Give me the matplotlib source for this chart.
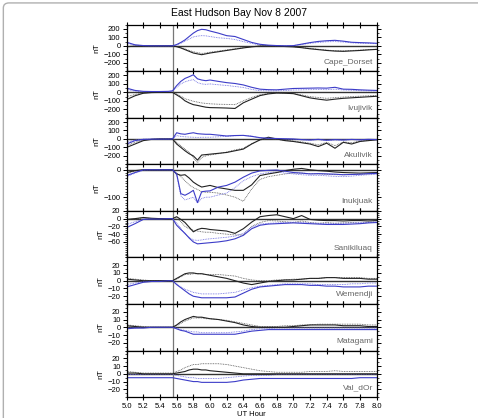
import numpy as np
import matplotlib
matplotlib.use("Agg")
import matplotlib.pyplot as plt
from matplotlib.patches import FancyBboxPatch
from matplotlib.ticker import MultipleLocator, FormatStrFormatter

# UT hour sample times (shared by every trace)
ut = [5.0, 5.1, 5.2, 5.3, 5.4, 5.5, 5.55, 5.6, 5.65, 5.7, 5.75, 5.8, 5.85, 5.9, 5.95,
      6.0, 6.1, 6.2, 6.3, 6.4, 6.5, 6.6, 6.7, 6.8, 6.9, 7.0, 7.1, 7.2, 7.3, 7.4,
      7.5, 7.6, 7.7, 7.8, 7.9, 8.0]

stations = ["Cape_Dorset", "Ivujivik", "Akulivik", "Inukjuak",
            "Sanikiluaq", "Wemendji", "Matagami", "Val_dOr"]

# Cape_Dorset
cd_blue = [42, 12, 3, 0, 0, 0, 0, 15, 40, 70, 110, 150, 180, 195, 190, 175, 150, 120, 110, 75,
           40, 18, 8, 3, 0, 2, 20, 38, 52, 60, 65, 55, 42, 38, 35, 30]
cd_blue_dot = [30, 8, 2, 0, 0, 0, 0, 10, 30, 55, 80, 105, 115, 120, 118, 110, 95, 88, 75, 50,
               28, 10, 4, 0, 0, 3, 15, 30, 40, 48, 50, 45, 35, 30, 28, 25]
cd_black = [-10, -5, 0, 0, 0, 0, 0, -10, -25, -45, -65, -85, -95, -105, -95, -85, -70, -55, -40, -25,
            -12, -3, 0, -3, -8, -12, -22, -35, -45, -55, -62, -65, -60, -55, -48, -42]
cd_black_dot = [-8, -3, 0, 0, 0, 0, 0, -8, -20, -35, -55, -70, -80, -90, -85, -75, -62, -48, -35, -22,
                -10, -2, 0, -2, -6, -10, -20, -30, -40, -50, -58, -60, -55, -50, -45, -40]

# Ivujivik
iv_blue = [50, 23, 12, 10, 10, 12, 18, 80, 130, 165, 185, 208, 160, 146, 138, 146, 130, 115, 105, 88,
           60, 38, 32, 30, 38, 46, 48, 50, 52, 50, 60, 38, 36, 30, 26, 23]
iv_blue_dot = [35, 15, 8, 8, 8, 10, 15, 60, 100, 125, 140, 150, 115, 100, 95, 100, 90, 82, 70, 58,
               35, 20, 18, 18, 22, 28, 30, 32, 34, 32, 38, 28, 25, 20, 18, 16]
iv_black = [-85, -40, -10, -2, 0, 0, 0, -30, -60, -100, -125, -145, -154, -165, -175, -180, -182, -185, -190, -123,
            -80, -38, -18, -8, -10, -15, -40, -65, -80, -92, -80, -70, -64, -58, -52, -46]
iv_black_dot = [-50, -25, -6, 0, 0, 0, 0, -20, -45, -75, -90, -105, -115, -125, -130, -135, -140, -142, -145, -100,
                -60, -28, -12, -5, -8, -12, -30, -50, -60, -70, -62, -55, -50, -45, -40, -35]

# Akulivik
ak_blue = [-60, -20, -5, -3, -2, -2, 0, 73, 60, 55, 65, 73, 62, 58, 55, 55, 45, 35, 40, 42,
           30, 15, 8, 5, 2, 0, -8, -12, -5, -15, -8, -12, -6, -10, -5, -8]
ak_blue_dot = [-40, -12, -3, -2, -2, -2, 0, 40, 30, 25, 22, 20, 18, 20, 20, 20, 25, 30, 38, 40,
               35, 10, 5, 2, 0, -5, -10, -15, -8, -20, -12, -15, -8, -12, -8, -10]
ak_black = [-100, -60, -20, -5, 0, 0, 0, -60, -100, -140, -175, -200, -250, -190, -185, -180, -170, -160, -140, -120,
            -60, -10, 20, 0, -20, -30, -45, -60, -90, -50, -110, -40, -60, -30, -20, -10]
ak_black_dot = [-80, -40, -12, -3, 0, 0, 0, -40, -80, -120, -160, -220, -280, -220, -200, -190, -175, -155, -130, -110,
                -55, -15, 10, -5, -15, -25, -35, -50, -70, -40, -80, -35, -45, -25, -15, -8]

# Inukjuak
in_blue = [-21, -10, 0, 0, 0, 0, 0, -15, -87, -93, -85, -75, -120, -80, -78, -77, -63, -57, -45, -27,
           -12, -4, -2, -1, -5, -10, -12, -15, -14, -15, -16, -18, -17, -16, -14, -13]
in_blue_dot = [-25, -12, -2, 0, 0, 0, 0, -20, -95, -110, -105, -100, -120, -105, -100, -100, -92, -85, -65, -40,
               -25, -15, -10, -8, -12, -15, -18, -20, -20, -22, -24, -25, -23, -20, -18, -17]
in_black = [-10, -3, 0, 0, 0, 0, 0, -15, -20, -18, -30, -45, -55, -63, -60, -57, -65, -70, -75, -75,
            -55, -21, -15, -10, -3, 2, 5, 0, -3, -5, -8, -10, -11, -12, -11, -10]
in_black_dot = [-12, -5, 0, 0, 0, 0, 0, -12, -25, -40, -55, -65, -72, -80, -82, -82, -85, -92, -100, -115,
                -70, -35, -25, -20, -15, -12, -12, -14, -15, -16, -18, -18, -17, -16, -15, -14]

# Sanikiluaq
sa_blue = [-23, -13, -2, -1, -1, 0, 0, -17, -28, -38, -50, -60, -65, -64, -63, -62, -60, -57, -52, -43,
           -26, -17, -14, -13, -12, -11, -12, -13, -14, -15, -15, -15, -14, -13, -11, -10]
sa_blue_dot = [-15, -8, -1, 0, 0, 0, 0, -12, -25, -40, -48, -55, -56, -55, -53, -52, -50, -48, -45, -38,
               -22, -14, -12, -11, -10, -9, -10, -11, -12, -13, -12, -12, -11, -10, -9, -8]
sa_black = [-2, 0, 3, 1, 0, 0, 0, 5, -2, -10, -22, -34, -28, -25, -26, -28, -30, -32, -38, -26,
            -9, 5, 8, 10, 5, 0, 8, -2, -4, -5, -5, -6, -5, -5, -6, -5]
sa_black_dot = [-3, -1, 2, 0, 0, 0, 0, 2, -8, -20, -26, -30, -32, -34, -35, -35, -38, -40, -42, -42,
                -20, -10, -5, -6, -8, -10, -6, -10, -12, -10, -12, -11, -10, -12, -10, -10]

# Wemendji
we_black = [2, 1, 0, 0, 0, 0, 0, 3, 6, 9, 10, 10, 9, 9, 8, 7, 5, 3, 0, -3,
            -5, -3, -1, 0, 1, 1, 2, 3, 3, 4, 4, 3, 3, 3, 2, 2]
we_black_dot = [3, 2, 1, 0, 0, 0, 0, 2, 5, 8, 8, 9, 9, 9, 8, 8, 8, 7, 6, 3,
                1, 0, 0, 1, 1, 2, 2, 3, 3, 4, 4, 4, 4, 4, 3, 3]
we_blue = [-8, -5, -2, -1, -1, 0, 0, -5, -9, -13, -17, -20, -21, -22, -22, -22, -22, -22, -21, -16,
           -11, -8, -7, -6, -5, -5, -5, -6, -6, -7, -7, -8, -8, -8, -7, -7]
we_blue_dot = [-5, -3, -1, 0, 0, 0, 0, -4, -8, -11, -13, -15, -16, -17, -17, -17, -17, -16, -15, -12,
               -9, -7, -6, -5, -4, -4, -4, -4, -5, -5, -5, -5, -4, -4, -3, -3]

# Matagami
ma_black = [2, 1, 0, 0, 0, 0, 0, 3, 7, 10, 12, 14, 13, 13, 12, 11, 10, 8, 6, 3,
            1, 0, 0, 0, 0, 1, 2, 3, 3, 3, 3, 2, 2, 2, 1, 1]
ma_black_dot = [3, 2, 1, 0, 0, 0, 0, 2, 5, 8, 10, 12, 12, 12, 11, 11, 10, 9, 7, 5,
                3, 1, 1, 1, 2, 2, 3, 3, 4, 4, 4, 4, 4, 4, 3, 3]
ma_blue = [-2, -1, -1, 0, 0, 0, 0, -2, -4, -5, -7, -9, -9, -9, -9, -9, -9, -9, -9, -7,
           -5, -4, -3, -3, -3, -3, -3, -3, -3, -3, -3, -3, -3, -3, -3, -3]
ma_blue_dot = [-1, -1, 0, 0, 0, 0, 0, -1, -3, -4, -5, -6, -6, -7, -7, -7, -7, -7, -6, -5,
               -3, -2, -2, -1, -1, -1, -1, -1, -1, -1, -1, -1, -1, -1, -1, -1]

# Val_dOr
vd_black = [1, 1, 0, 0, 0, 0, 0, 1, 2, 3, 5, 6, 6, 5, 5, 4, 3, 2, 1, 0,
            0, 0, 0, 0, 0, 0, 0, 0, 0, 0, 0, 0, 0, 0, 0, 0]
vd_black_dot = [3, 2, 1, 1, 1, 1, 1, 3, 5, 8, 10, 12, 12, 13, 13, 13, 13, 12, 10, 8,
                6, 4, 3, 2, 2, 2, 2, 3, 3, 3, 4, 3, 3, 3, 3, 3]
vd_blue = [-5, -5, -5, -5, -5, -5, -5, -6, -7, -8, -9, -10, -10, -11, -11, -11, -11, -11, -10, -8,
           -7, -6, -6, -6, -6, -6, -6, -6, -6, -6, -6, -6, -6, -5, -5, -5]
vd_blue_dot = [-1, -1, -1, -1, -1, -1, -1, -2, -3, -4, -5, -5, -6, -6, -6, -6, -6, -5, -4, -3,
               -2, -2, -2, -1, -1, -1, -1, -1, -1, -1, -1, -1, -1, -1, -1, -1]

traces = [
    (cd_black, cd_black_dot, cd_blue, cd_blue_dot),
    (iv_black, iv_black_dot, iv_blue, iv_blue_dot),
    (ak_black, ak_black_dot, ak_blue, ak_blue_dot),
    (in_black, in_black_dot, in_blue, in_blue_dot),
    (sa_black, sa_black_dot, sa_blue, sa_blue_dot),
    (we_black, we_black_dot, we_blue, we_blue_dot),
    (ma_black, ma_black_dot, ma_blue, ma_blue_dot),
    (vd_black, vd_black_dot, vd_blue, vd_blue_dot),
]

ylims = [(-300, 250), (-300, 250), (-300, 250), (-150, 20),
         (-100, 20), (-30, 30), (-30, 30), (-30, 30)]
yticks = [[-200, -100, 0, 100, 200]] * 3 + [[-100, 0], [-60, -40, -20, 0, 20]] + [[-20, -10, 0, 10, 20]] * 3
yminor = [50, 50, 50, 10, 5, 5, 5, 5]
onset = 5.55

plt.rcParams["font.family"] = ["Liberation Sans", "DejaVu Sans"]

fig, axes = plt.subplots(8, 1, sharex=True, figsize=(4.78, 4.18), dpi=100)
fig.subplots_adjust(left=0.265, right=0.788, top=0.941, bottom=0.05, hspace=0)

# rounded frame around the figure
fig.patches.append(FancyBboxPatch((0.007, -0.1), 1.2, 1.093, boxstyle="round,pad=0,rounding_size=0.012",
                                  transform=fig.transFigure, fill=False, ec="#b0b0b0", lw=1.0))

for i, ax in enumerate(axes):
    blk, blk_d, blu, blu_d = traces[i]
    ax.axhline(0, color="#333333", lw=1.0, zorder=1)
    ax.axvline(onset, color="#777777", lw=0.9, zorder=1)
    ax.plot(ut, blk_d, color="#555555", lw=0.6, ls=(0, (1, 1)))
    ax.plot(ut, blu_d, color="#6a6ae0", lw=0.6, ls=(0, (1, 1)))
    ax.plot(ut, blk, color="#222222", lw=0.8)
    ax.plot(ut, blu, color="#3c3cc8", lw=0.8)
    ax.set_ylim(*ylims[i])
    ax.set_xlim(5.0, 8.0)
    ax.set_yticks(yticks[i])
    ax.yaxis.set_minor_locator(MultipleLocator(yminor[i]))
    ax.xaxis.set_major_locator(MultipleLocator(0.2))
    ax.xaxis.set_major_formatter(FormatStrFormatter("%.1f"))
    ax.tick_params(axis="y", which="major", direction="out", length=3, width=0.7,
                   labelsize=5.5, pad=1.5, right=True)
    ax.tick_params(axis="y", which="minor", direction="out", length=1.5, width=0.5, right=True)
    ax.tick_params(axis="x", which="major", direction="inout", length=5, width=0.8,
                   top=True, labelsize=5.5, pad=1.5)
    for sp in ax.spines.values():
        sp.set_linewidth(0.9)
    ax.set_ylabel("nT", fontsize=6, labelpad=2)
    ax.text(0.985, 0.12, stations[i], transform=ax.transAxes, ha="right", va="bottom",
            fontsize=6, color="#666666")

axes[-1].set_xlabel("UT Hour", fontsize=5.5)
axes[-1].xaxis.set_label_coords(0.5, -0.29)
fig.suptitle("East Hudson Bay Nov 8 2007", fontsize=7.5, y=0.982)

fig.savefig("out.png", dpi=100)
